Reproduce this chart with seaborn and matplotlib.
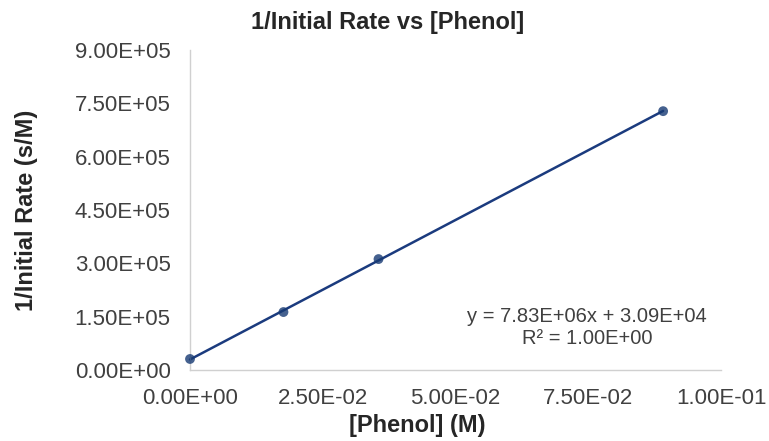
import numpy as np
import pandas as pd
import matplotlib
matplotlib.use("Agg")
import matplotlib.pyplot as plt
import seaborn as sns
from matplotlib.ticker import MultipleLocator, FuncFormatter

# values
phenol = [0.0, 0.0176, 0.0355, 0.0891]          # [Phenol] (M)
inv_rate = [3.1e4, 1.63e5, 3.12e5, 7.28e5]      # 1/initial rate (s/M)
x_ticks = [0.0, 0.025, 0.05, 0.075, 0.1]
y_ticks = [0, 1.5e5, 3.0e5, 4.5e5, 6.0e5, 7.5e5, 9.0e5]
eq_text = "y = 7.83E+06x + 3.09E+04\nR\u00b2 = 1.00E+00"

df = pd.DataFrame({"phenol": phenol, "inv_rate": inv_rate})

sns.set_style("white")
plt.rcParams["font.family"] = ["Liberation Sans", "DejaVu Sans"]

navy = "#1b3b7e"
fig = plt.figure(figsize=(7.69, 4.41), dpi=100)
ax = fig.add_axes([190 / 769, 1 - 370 / 441, 531 / 769, 320 / 441])

sns.regplot(
    data=df, x="phenol", y="inv_rate", ax=ax,
    ci=None, truncate=True,
    scatter_kws=dict(s=50, color="#173a73", edgecolor="none", zorder=3,
                     clip_on=False),
    line_kws=dict(color=navy, lw=1.8, zorder=2, clip_on=False),
)

ax.set_xlim(0, 0.1)
ax.set_ylim(0, 9.0e5)
ax.set_xticks(x_ticks)
ax.set_yticks(y_ticks)
sci = FuncFormatter(lambda v, p: f"{v:.2E}")
ax.xaxis.set_major_formatter(sci)
ax.yaxis.set_major_formatter(sci)
ax.xaxis.set_minor_locator(MultipleLocator(0.005))

ax.tick_params(axis="x", which="both", direction="in", length=4, width=0.8,
               color="#bfbfbf", labelsize=16, labelcolor="#404040", pad=13)
ax.tick_params(axis="y", which="both", length=0, labelsize=16,
               labelcolor="#404040", pad=14)

for side in ["top", "right"]:
    ax.spines[side].set_visible(False)
for side in ["left", "bottom"]:
    ax.spines[side].set_color("#d0d0d0")
    ax.spines[side].set_linewidth(1.0)

ax.set_xlabel("[Phenol] (M)", fontsize=17, fontweight="bold", color="#262626")
ax.set_ylabel("1/Initial Rate (s/M)", fontsize=17, fontweight="bold", color="#262626")
ax.xaxis.set_label_coords((417 - 190) / 531, -(414 - 370) / 320)
ax.yaxis.set_label_coords(-(190 - 38) / 531, 0.5)

fig.suptitle("1/Initial Rate vs [Phenol]", x=388 / 769, y=1 - 22 / 441,
             va="center", fontsize=17, fontweight="bold", color="#262626")

ax.text((587 - 190) / 531, (370 - 327) / 320, eq_text, transform=ax.transAxes,
        ha="center", va="center", fontsize=14.5, color="#404040",
        linespacing=1.2)

fig.savefig("out.png", dpi=100)
